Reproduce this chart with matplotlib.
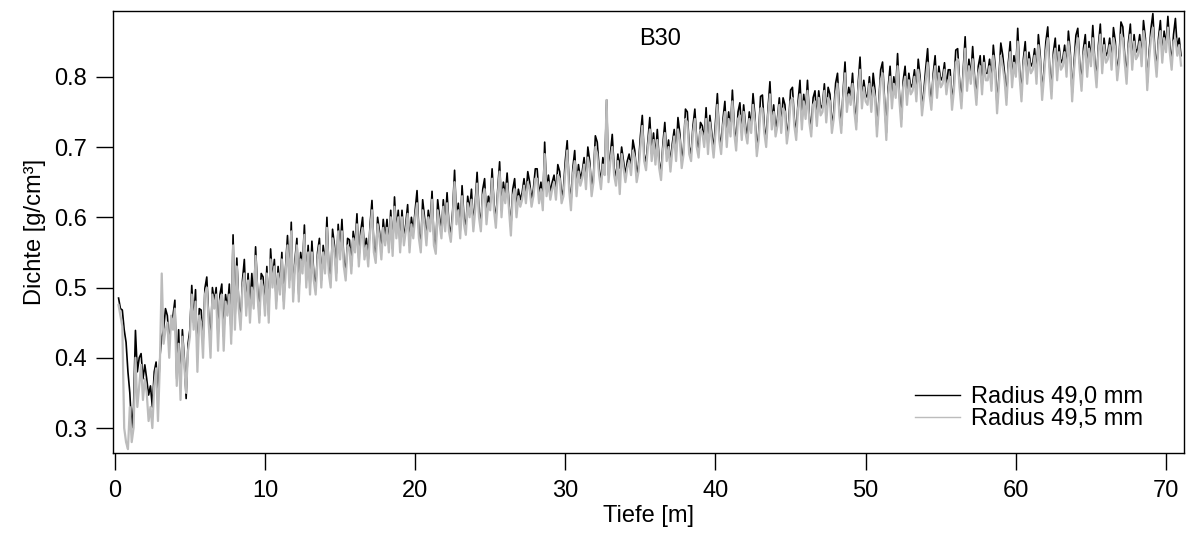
import matplotlib
matplotlib.use("Agg")
import matplotlib.pyplot as plt
import numpy as np

plt.rcParams["font.family"] = ["Liberation Sans", "DejaVu Sans"]

depth = np.arange(2, 569) * 0.125

# radius 49.0 mm, one row per metre
dens_490 = [
    0.485, 0.470, 0.468, 0.440, 0.422, 0.380, 0.350,
    0.300, 0.330, 0.439, 0.380, 0.400, 0.406, 0.370, 0.390,
    0.370, 0.347, 0.360, 0.330, 0.380, 0.394, 0.340, 0.400,
    0.430, 0.440, 0.470, 0.460, 0.420, 0.455, 0.460, 0.482,
    0.370, 0.440, 0.360, 0.440, 0.400, 0.342, 0.420, 0.440,
    0.503, 0.450, 0.497, 0.400, 0.470, 0.468, 0.420, 0.499,
    0.515, 0.460, 0.420, 0.500, 0.480, 0.500, 0.430, 0.490,
    0.505, 0.430, 0.490, 0.470, 0.505, 0.430, 0.575, 0.450,
    0.542, 0.480, 0.450, 0.510, 0.540, 0.470, 0.520, 0.470,
    0.520, 0.480, 0.558, 0.500, 0.460, 0.520, 0.515, 0.470,
    0.530, 0.460, 0.555, 0.510, 0.540, 0.480, 0.530, 0.500,
    0.550, 0.480, 0.530, 0.574, 0.510, 0.593, 0.490, 0.540,
    0.570, 0.490, 0.550, 0.530, 0.589, 0.510, 0.560, 0.500,
    0.566, 0.520, 0.500, 0.550, 0.570, 0.510, 0.560, 0.530,
    0.600, 0.530, 0.510, 0.583, 0.560, 0.520, 0.590, 0.550,
    0.597, 0.540, 0.520, 0.570, 0.568, 0.530, 0.580, 0.560,
    0.605, 0.540, 0.580, 0.600, 0.550, 0.570, 0.540, 0.590,
    0.624, 0.560, 0.545, 0.600, 0.580, 0.550, 0.597, 0.570,
    0.597, 0.560, 0.610, 0.555, 0.629, 0.580, 0.610, 0.560,
    0.610, 0.570, 0.590, 0.618, 0.560, 0.600, 0.580, 0.610,
    0.638, 0.580, 0.560, 0.625, 0.600, 0.570, 0.610, 0.590,
    0.637, 0.570, 0.558, 0.625, 0.600, 0.580, 0.625, 0.590,
    0.635, 0.590, 0.575, 0.610, 0.667, 0.600, 0.620, 0.580,
    0.645, 0.600, 0.585, 0.630, 0.610, 0.640, 0.590, 0.620,
    0.664, 0.610, 0.590, 0.640, 0.655, 0.600, 0.630, 0.620,
    0.669, 0.620, 0.595, 0.640, 0.679, 0.610, 0.650, 0.630,
    0.663, 0.620, 0.585, 0.640, 0.655, 0.610, 0.640, 0.625,
    0.635, 0.655, 0.630, 0.665, 0.650, 0.625, 0.640, 0.669,
    0.669, 0.630, 0.650, 0.620, 0.707, 0.640, 0.660, 0.635,
    0.650, 0.660, 0.635, 0.675, 0.665, 0.630, 0.640, 0.681,
    0.709, 0.650, 0.620, 0.670, 0.695, 0.640, 0.675, 0.655,
    0.665, 0.685, 0.650, 0.700, 0.680, 0.640, 0.660, 0.716,
    0.707, 0.670, 0.650, 0.685, 0.670, 0.767, 0.660, 0.690,
    0.718, 0.670, 0.655, 0.690, 0.670, 0.700, 0.680, 0.660,
    0.680, 0.690, 0.670, 0.710, 0.695, 0.660, 0.675, 0.716,
    0.745, 0.690, 0.677, 0.710, 0.742, 0.690, 0.720, 0.685,
    0.725, 0.680, 0.663, 0.705, 0.735, 0.690, 0.710, 0.675,
    0.705, 0.725, 0.690, 0.742, 0.720, 0.680, 0.700, 0.754,
    0.750, 0.700, 0.690, 0.730, 0.754, 0.710, 0.695, 0.735,
    0.730, 0.710, 0.756, 0.700, 0.745, 0.720, 0.695, 0.735,
    0.776, 0.720, 0.700, 0.740, 0.765, 0.710, 0.750, 0.725,
    0.781, 0.730, 0.705, 0.750, 0.763, 0.720, 0.760, 0.730,
    0.715, 0.750, 0.730, 0.776, 0.745, 0.697, 0.720, 0.772,
    0.774, 0.730, 0.710, 0.755, 0.793, 0.735, 0.760, 0.725,
    0.740, 0.770, 0.730, 0.770, 0.760, 0.715, 0.735, 0.781,
    0.785, 0.740, 0.720, 0.765, 0.795, 0.735, 0.775, 0.750,
    0.795, 0.745, 0.725, 0.770, 0.780, 0.740, 0.780, 0.755,
    0.760, 0.790, 0.745, 0.785, 0.775, 0.730, 0.750, 0.791,
    0.805, 0.755, 0.730, 0.780, 0.821, 0.760, 0.785, 0.770,
    0.805, 0.760, 0.735, 0.790, 0.828, 0.765, 0.795, 0.775,
    0.770, 0.800, 0.760, 0.805, 0.780, 0.725, 0.765, 0.810,
    0.821, 0.770, 0.720, 0.785, 0.815, 0.765, 0.800, 0.780,
    0.833, 0.775, 0.739, 0.795, 0.815, 0.770, 0.805, 0.785,
    0.790, 0.810, 0.775, 0.825, 0.800, 0.755, 0.780, 0.812,
    0.840, 0.785, 0.763, 0.805, 0.830, 0.780, 0.815, 0.795,
    0.800, 0.820, 0.785, 0.810, 0.810, 0.763, 0.790, 0.838,
    0.840, 0.795, 0.765, 0.810, 0.857, 0.790, 0.825, 0.800,
    0.843, 0.800, 0.770, 0.815, 0.830, 0.785, 0.830, 0.805,
    0.805, 0.825, 0.790, 0.845, 0.815, 0.758, 0.800, 0.848,
    0.831, 0.805, 0.770, 0.820, 0.850, 0.795, 0.830, 0.810,
    0.869, 0.810, 0.775, 0.825, 0.850, 0.800, 0.835, 0.815,
    0.820, 0.840, 0.800, 0.860, 0.830, 0.777, 0.810, 0.850,
    0.871, 0.815, 0.779, 0.835, 0.855, 0.805, 0.845, 0.820,
    0.825, 0.845, 0.810, 0.865, 0.835, 0.775, 0.820, 0.859,
    0.869, 0.820, 0.790, 0.840, 0.860, 0.810, 0.850, 0.825,
    0.873, 0.825, 0.795, 0.845, 0.875, 0.815, 0.855, 0.830,
    0.835, 0.855, 0.820, 0.870, 0.850, 0.805, 0.830, 0.878,
    0.871, 0.830, 0.800, 0.850, 0.875, 0.820, 0.860, 0.835,
    0.840, 0.860, 0.825, 0.880, 0.855, 0.791, 0.835, 0.869,
    0.890, 0.840, 0.810, 0.855, 0.880, 0.830, 0.865, 0.845,
    0.886, 0.845, 0.820, 0.860, 0.883, 0.840, 0.855, 0.830,
]

# radius 49.5 mm, one row per metre
dens_495 = [
    0.475, 0.460, 0.445, 0.300, 0.280, 0.270, 0.330,
    0.280, 0.300, 0.400, 0.330, 0.360, 0.390, 0.340, 0.370,
    0.350, 0.310, 0.330, 0.300, 0.360, 0.385, 0.310, 0.390,
    0.520, 0.420, 0.440, 0.450, 0.400, 0.460, 0.440, 0.470,
    0.360, 0.420, 0.340, 0.430, 0.390, 0.350, 0.410, 0.430,
    0.490, 0.440, 0.480, 0.380, 0.460, 0.450, 0.400, 0.490,
    0.500, 0.450, 0.400, 0.490, 0.470, 0.490, 0.410, 0.480,
    0.490, 0.410, 0.480, 0.460, 0.490, 0.420, 0.560, 0.440,
    0.530, 0.470, 0.440, 0.500, 0.520, 0.460, 0.510, 0.450,
    0.500, 0.470, 0.545, 0.490, 0.450, 0.510, 0.500, 0.460,
    0.520, 0.450, 0.540, 0.500, 0.530, 0.470, 0.520, 0.490,
    0.540, 0.470, 0.520, 0.560, 0.500, 0.580, 0.480, 0.530,
    0.560, 0.480, 0.540, 0.520, 0.575, 0.500, 0.550, 0.490,
    0.550, 0.510, 0.490, 0.540, 0.560, 0.500, 0.550, 0.520,
    0.585, 0.520, 0.500, 0.570, 0.550, 0.510, 0.580, 0.540,
    0.580, 0.530, 0.510, 0.560, 0.555, 0.520, 0.570, 0.550,
    0.590, 0.530, 0.570, 0.585, 0.540, 0.560, 0.530, 0.580,
    0.610, 0.550, 0.535, 0.590, 0.570, 0.540, 0.585, 0.560,
    0.585, 0.550, 0.600, 0.545, 0.615, 0.570, 0.600, 0.550,
    0.600, 0.560, 0.580, 0.605, 0.550, 0.590, 0.570, 0.600,
    0.620, 0.570, 0.550, 0.610, 0.590, 0.560, 0.600, 0.580,
    0.625, 0.560, 0.548, 0.610, 0.590, 0.570, 0.615, 0.580,
    0.620, 0.580, 0.565, 0.600, 0.650, 0.590, 0.610, 0.570,
    0.630, 0.590, 0.575, 0.620, 0.600, 0.625, 0.580, 0.610,
    0.648, 0.600, 0.580, 0.630, 0.640, 0.590, 0.620, 0.610,
    0.655, 0.610, 0.585, 0.630, 0.665, 0.600, 0.640, 0.620,
    0.648, 0.610, 0.574, 0.630, 0.640, 0.600, 0.630, 0.615,
    0.625, 0.645, 0.620, 0.650, 0.640, 0.615, 0.630, 0.655,
    0.655, 0.620, 0.640, 0.610, 0.690, 0.630, 0.650, 0.625,
    0.640, 0.650, 0.625, 0.660, 0.655, 0.620, 0.630, 0.665,
    0.695, 0.640, 0.610, 0.660, 0.680, 0.630, 0.665, 0.645,
    0.655, 0.675, 0.640, 0.685, 0.670, 0.630, 0.650, 0.700,
    0.690, 0.660, 0.640, 0.675, 0.660, 0.767, 0.650, 0.680,
    0.700, 0.660, 0.645, 0.680, 0.633, 0.690, 0.670, 0.650,
    0.670, 0.680, 0.660, 0.695, 0.685, 0.650, 0.665, 0.700,
    0.730, 0.680, 0.667, 0.700, 0.725, 0.680, 0.710, 0.675,
    0.710, 0.670, 0.653, 0.695, 0.720, 0.680, 0.700, 0.665,
    0.695, 0.715, 0.680, 0.725, 0.710, 0.670, 0.690, 0.740,
    0.735, 0.690, 0.680, 0.720, 0.740, 0.700, 0.685, 0.725,
    0.720, 0.700, 0.740, 0.690, 0.735, 0.710, 0.685, 0.720,
    0.760, 0.710, 0.690, 0.730, 0.750, 0.700, 0.740, 0.715,
    0.765, 0.720, 0.695, 0.740, 0.745, 0.710, 0.750, 0.720,
    0.705, 0.740, 0.720, 0.760, 0.735, 0.687, 0.710, 0.755,
    0.755, 0.720, 0.700, 0.745, 0.775, 0.725, 0.750, 0.715,
    0.730, 0.760, 0.720, 0.755, 0.750, 0.705, 0.725, 0.765,
    0.770, 0.730, 0.710, 0.755, 0.775, 0.725, 0.765, 0.740,
    0.780, 0.735, 0.715, 0.760, 0.765, 0.730, 0.770, 0.745,
    0.750, 0.780, 0.735, 0.770, 0.765, 0.720, 0.740, 0.775,
    0.790, 0.745, 0.720, 0.770, 0.805, 0.750, 0.775, 0.760,
    0.790, 0.750, 0.725, 0.780, 0.810, 0.755, 0.785, 0.765,
    0.760, 0.790, 0.750, 0.785, 0.770, 0.715, 0.755, 0.795,
    0.805, 0.760, 0.710, 0.775, 0.800, 0.755, 0.790, 0.770,
    0.815, 0.765, 0.729, 0.785, 0.800, 0.760, 0.795, 0.775,
    0.780, 0.800, 0.765, 0.810, 0.790, 0.745, 0.770, 0.795,
    0.820, 0.775, 0.753, 0.795, 0.815, 0.770, 0.805, 0.785,
    0.790, 0.810, 0.775, 0.795, 0.800, 0.753, 0.780, 0.820,
    0.825, 0.785, 0.755, 0.800, 0.840, 0.780, 0.815, 0.790,
    0.825, 0.790, 0.760, 0.805, 0.815, 0.775, 0.820, 0.795,
    0.795, 0.815, 0.780, 0.830, 0.805, 0.748, 0.790, 0.830,
    0.815, 0.795, 0.760, 0.810, 0.835, 0.785, 0.820, 0.800,
    0.850, 0.800, 0.765, 0.815, 0.835, 0.790, 0.825, 0.805,
    0.810, 0.830, 0.790, 0.845, 0.820, 0.767, 0.800, 0.835,
    0.855, 0.805, 0.769, 0.825, 0.840, 0.795, 0.835, 0.810,
    0.815, 0.835, 0.800, 0.850, 0.825, 0.765, 0.810, 0.840,
    0.855, 0.810, 0.780, 0.830, 0.845, 0.800, 0.840, 0.815,
    0.855, 0.815, 0.785, 0.835, 0.860, 0.805, 0.845, 0.820,
    0.825, 0.845, 0.810, 0.855, 0.840, 0.795, 0.820, 0.860,
    0.855, 0.820, 0.790, 0.840, 0.860, 0.810, 0.850, 0.825,
    0.830, 0.850, 0.815, 0.865, 0.845, 0.781, 0.825, 0.855,
    0.870, 0.830, 0.800, 0.845, 0.865, 0.820, 0.855, 0.835,
    0.870, 0.835, 0.810, 0.850, 0.855, 0.830, 0.845, 0.816,
]

labels = ["Radius 49,0 mm", "Radius 49,5 mm"]
colors = ["black", "#bcbcbc"]

fig = plt.figure(figsize=(11.87, 5.40), dpi=100)
ax = fig.add_axes([0.0952, 0.161, 0.9023, 0.8186])

ax.plot(depth, dens_490, color=colors[0], lw=1.2, label=labels[0])
ax.plot(depth, dens_495, color=colors[1], lw=1.6, label=labels[1])

ax.set_xlim(-0.12, 71.2)
ax.set_ylim(0.2644, 0.8936)
ax.set_xticks(np.arange(0, 71, 10))
ax.set_yticks([0.3, 0.4, 0.5, 0.6, 0.7, 0.8])
ax.tick_params(direction="out", length=12.5, width=1.0, labelsize=17, pad=6)
ax.tick_params(axis="x", pad=7)
for s in ax.spines.values():
    s.set_linewidth(1.0)

ax.set_xlabel("Tiefe [m]", fontsize=17, labelpad=2)
ax.set_ylabel("Dichte [g/cm³]", fontsize=17, labelpad=6)

ax.text(0.511, 0.937, "B30", transform=ax.transAxes, ha="center", va="center",
        fontsize=17)

leg = ax.legend(loc="lower right", bbox_to_anchor=(0.962, 0.052), frameon=False,
                fontsize=17, handlelength=1.9, handletextpad=0.47, labelspacing=0.0,
                borderpad=0, borderaxespad=0)
for h in leg.get_lines():
    h.set_linewidth(1.0)

fig.savefig("out.png", dpi=100)
